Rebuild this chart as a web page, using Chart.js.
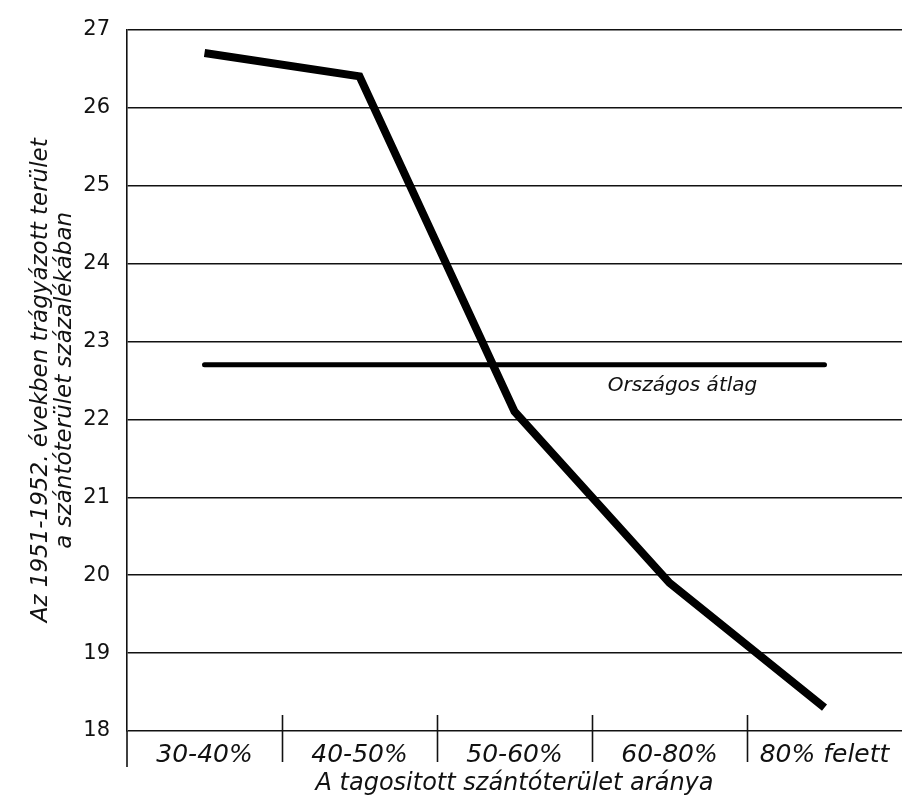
<!DOCTYPE html>
<html>
<head>
<meta charset="utf-8">
<script src="https://cdn.jsdelivr.net/npm/chart.js@4"></script>
<style>
  html, body { margin: 0; padding: 0; background: #fff; }
  #wrap { width: 902px; height: 800px; }
</style>
</head>
<body>
<div id="wrap"><canvas id="chart"></canvas></div>
<script>
'use strict';

/* ── Data ───────────────────────────────────────────────── */
const categories = ['30-40%', '40-50%', '50-60%', '60-80%', '80% felett'];
const values = [26.7, 26.4, 22.1, 19.9, 18.3];
const nationalAvg = [22.7, 22.7, 22.7, 22.7, 22.7];
const avgLabel = 'Országos átlag';
const yTitle = ['Az 1951-1952. években trágyázott terület', 'a szántóterület százalékában'];
const xTitle = 'A tagositott szántóterület aránya';

const INK = '#111';
const SANS = "'DejaVu Sans', sans-serif";

/* ── Separators under the x axis + avg label ───────────── */
const extras = {
  id: 'extras',
  afterDraw(chart) {
    const { ctx, chartArea: a, scales: { x, y } } = chart;
    ctx.save();
    ctx.strokeStyle = INK;
    ctx.lineWidth = 1.6;
    for (let i = 1; i < categories.length; i++) {
      const px = Math.round((x.getPixelForValue(i - 1) + x.getPixelForValue(i)) / 2) + 0.5;
      ctx.beginPath();
      ctx.moveTo(px, a.bottom - 16);
      ctx.lineTo(px, a.bottom + 31);
      ctx.stroke();
    }
    // left axis runs down past the last gridline
    ctx.beginPath();
    ctx.moveTo(a.left, a.bottom);
    ctx.lineTo(a.left, a.bottom + 36);
    ctx.stroke();

    ctx.font = `italic 20px ${SANS}`;
    ctx.fillStyle = INK;
    ctx.textAlign = 'center';
    ctx.textBaseline = 'middle';
    ctx.fillText(avgLabel, x.getPixelForValue(3) + 13, y.getPixelForValue(nationalAvg[3]) + 21);
    ctx.restore();
  }
};

new Chart(document.getElementById('chart'), {
  type: 'line',
  data: {
    labels: categories,
    datasets: [
      {
        data: values,
        borderColor: '#000',
        borderWidth: 8,
        borderCapStyle: 'butt',
        borderJoinStyle: 'miter',
        pointRadius: 0,
        tension: 0
      },
      {
        data: nationalAvg,
        borderColor: '#000',
        borderWidth: 5,
        borderCapStyle: 'round',
        pointRadius: 0,
        tension: 0
      }
    ]
  },
  options: {
    responsive: true,
    maintainAspectRatio: false,
    animation: false,
    layout: { padding: { top: 21, right: 0, left: 0, bottom: 0 } },
    plugins: { legend: { display: false }, tooltip: { enabled: false } },
    scales: {
      x: {
        offset: true,
        grid: { display: false, drawTicks: false },
        border: { display: false },
        ticks: {
          padding: 9,
          color: INK,
          font: { family: SANS, style: 'italic', size: 25 }
        },
        title: {
          display: true,
          text: xTitle,
          color: INK,
          padding: { top: 0, bottom: 3 },
          font: { family: SANS, style: 'italic', size: 24, lineHeight: 1.1 }
        },
        afterFit: s => { s.height = 69; }
      },
      y: {
        min: 18,
        max: 27,
        ticks: {
          stepSize: 1,
          padding: 17,
          color: INK,
          font: { family: SANS, size: 21 }
        },
        grid: { color: INK, lineWidth: 1.4, drawTicks: false },
        border: { display: true, color: INK, width: 1.6 },
        title: {
          display: true,
          text: yTitle,
          color: INK,
          padding: { top: 29, bottom: 0 },
          font: { family: SANS, style: 'italic', size: 23, lineHeight: 1.05 }
        },
        afterFit: s => { s.width = 127; }
      }
    }
  },
  plugins: [extras]
});
</script>
</body>
</html>
